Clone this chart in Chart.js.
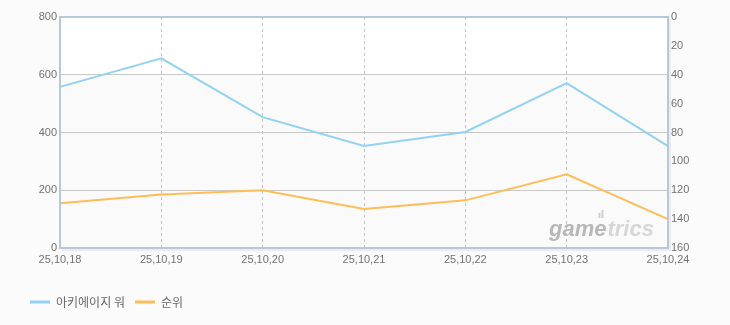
<!DOCTYPE html>
<html>
<head>
<meta charset="utf-8">
<script src="https://cdn.jsdelivr.net/npm/chart.js@4/dist/chart.umd.min.js"></script>
<style>
	html, body { margin: 0; padding: 0; background: #fbfbfb; }
	#chart-rank { display: block; }
</style>
</head>
<body>
<canvas id="chart-rank" width="730" height="325"></canvas>
<script>

/* Data */

var dates = [ "25,10,18", "25,10,19", "25,10,20", "25,10,21", "25,10,22", "25,10,23", "25,10,24" ];
var shareValues = [ 558, 657, 453, 353, 402, 571, 353 ];
var rankValues = [ 129, 123, 120, 133, 127, 109, 140 ];
var leftTicks = [ 0, 200, 400, 600, 800 ];
var rightTicks = [ 0, 20, 40, 60, 80, 100, 120, 140, 160 ];

var tickFont = { family: "'Liberation Sans', Arial, sans-serif", size: 11 };
var tickColor = '#737373';

/* Plot background, border and watermark */

var plotFrame = {
	id: 'plotFrame',
	beforeDraw: function( chart ) {
		var ctx = chart.ctx, a = chart.chartArea, y = chart.scales.y;
		ctx.save();
		ctx.fillStyle = '#fafafa';
		ctx.fillRect( a.left, a.top, a.right - a.left, a.bottom - a.top );
		ctx.fillStyle = '#ffffff';
		ctx.fillRect( a.left, a.top, a.right - a.left, y.getPixelForValue( 600 ) - a.top );
		ctx.restore();
	},
	beforeDatasetsDraw: function( chart ) {
		var ctx = chart.ctx, a = chart.chartArea;
		ctx.save();
		ctx.font = "italic bold 22px 'Liberation Sans', Arial, sans-serif";
		ctx.textBaseline = 'alphabetic';
		var x = a.right - 119, yy = a.bottom - 12;
		ctx.fillStyle = '#b8b8b8';
		ctx.fillText( 'game', x, yy );
		var w = ctx.measureText( 'game' ).width;
		ctx.fillStyle = '#d6d6d6';
		ctx.fillText( 'trics', x + w + 1, yy );
		ctx.fillStyle = '#d0d0d0';
		ctx.fillRect( x + w - 8, yy - 23, 2, 5 );
		ctx.fillRect( x + w - 5, yy - 26, 2, 8 );
		ctx.restore();
	},
	afterDraw: function( chart ) {
		var ctx = chart.ctx, a = chart.chartArea;
		ctx.save();
		ctx.strokeStyle = 'rgba(0,0,0,0.06)';
		ctx.lineWidth = 2;
		ctx.beginPath();
		ctx.moveTo( a.left + 2, a.bottom + 2 );
		ctx.lineTo( a.right + 2, a.bottom + 2 );
		ctx.lineTo( a.right + 2, a.top + 2 );
		ctx.stroke();
		ctx.strokeStyle = '#b6c8da';
		ctx.lineWidth = 2;
		ctx.strokeRect( a.left, a.top, a.right - a.left, a.bottom - a.top );
		ctx.restore();
	}
};

var ctxrank = document.getElementById("chart-rank").getContext('2d');
var myChart = new Chart(ctxrank, {
	type: 'line',
	data: {
		labels: dates,
		datasets: [{
			label: "아키에이지 워",
			data: shareValues,
			yAxisID: 'y',
			borderColor: '#92d2f2',
			backgroundColor: '#92d2f2',
			borderWidth: 2,
			pointRadius: 0,
			tension: 0
		}, {
			label: "순위",
			data: rankValues,
			yAxisID: 'y1',
			borderColor: '#ffbd58',
			backgroundColor: '#ffbd58',
			borderWidth: 2,
			pointRadius: 0,
			tension: 0
		}]
	},
	options: {
		responsive: false,
		animation: false,
		layout: { padding: { top: 17, left: 20, right: 0, bottom: 7 } },
		plugins: {
			tooltip: { enabled: false },
			legend: {
				position: 'bottom',
				align: 'start',
				labels: {
					usePointStyle: true,
					pointStyle: 'line',
					pointStyleWidth: 20,
					boxHeight: 3,
					padding: 10,
					color: '#666',
					font: { family: "'Noto Sans CJK KR', sans-serif", size: 12 },
					generateLabels: function( chart ) {
						var items = Chart.defaults.plugins.legend.labels.generateLabels( chart );
						items.forEach(function( it ){ it.lineWidth = 3; });
						return items;
					}
				}
			}
		},
		scales: {
			x: {
				offset: false,
				border: { display: false, dash: [ 3, 3 ] },
				grid: {
					drawTicks: false,
					color: function( c ) { return ( c.index === 0 || c.index === dates.length - 1 ) ? 'rgba(0,0,0,0)' : '#c4c4c4'; },
					lineWidth: 1
				},
				ticks: { color: tickColor, font: tickFont, padding: 5, maxRotation: 0, autoSkip: false },
				afterFit: function( s ) { s.height = 38; }
			},
			y: {
				position: 'left',
				min: 0, max: 800,
				afterBuildTicks: function( s ) { s.ticks = leftTicks.map(function( v ){ return { value: v }; }); },
				border: { display: false },
				grid: {
					drawTicks: false,
					color: function( c ) { return ( c.tick.value === 0 || c.tick.value === 800 ) ? 'rgba(0,0,0,0)' : '#c8c8c8'; }
				},
				ticks: { color: tickColor, font: tickFont, padding: 3 },
				afterFit: function( s ) { s.width = 40; }
			},
			y1: {
				position: 'right',
				reverse: true,
				min: 0, max: 160,
				afterBuildTicks: function( s ) { s.ticks = rightTicks.map(function( v ){ return { value: v }; }); },
				border: { display: false },
				grid: { display: false, drawTicks: false },
				ticks: { color: tickColor, font: tickFont, padding: 3 },
				afterFit: function( s ) { s.width = 62; }
			}
		}
	},
	plugins: [ plotFrame ]
});

</script>
</body>
</html>
